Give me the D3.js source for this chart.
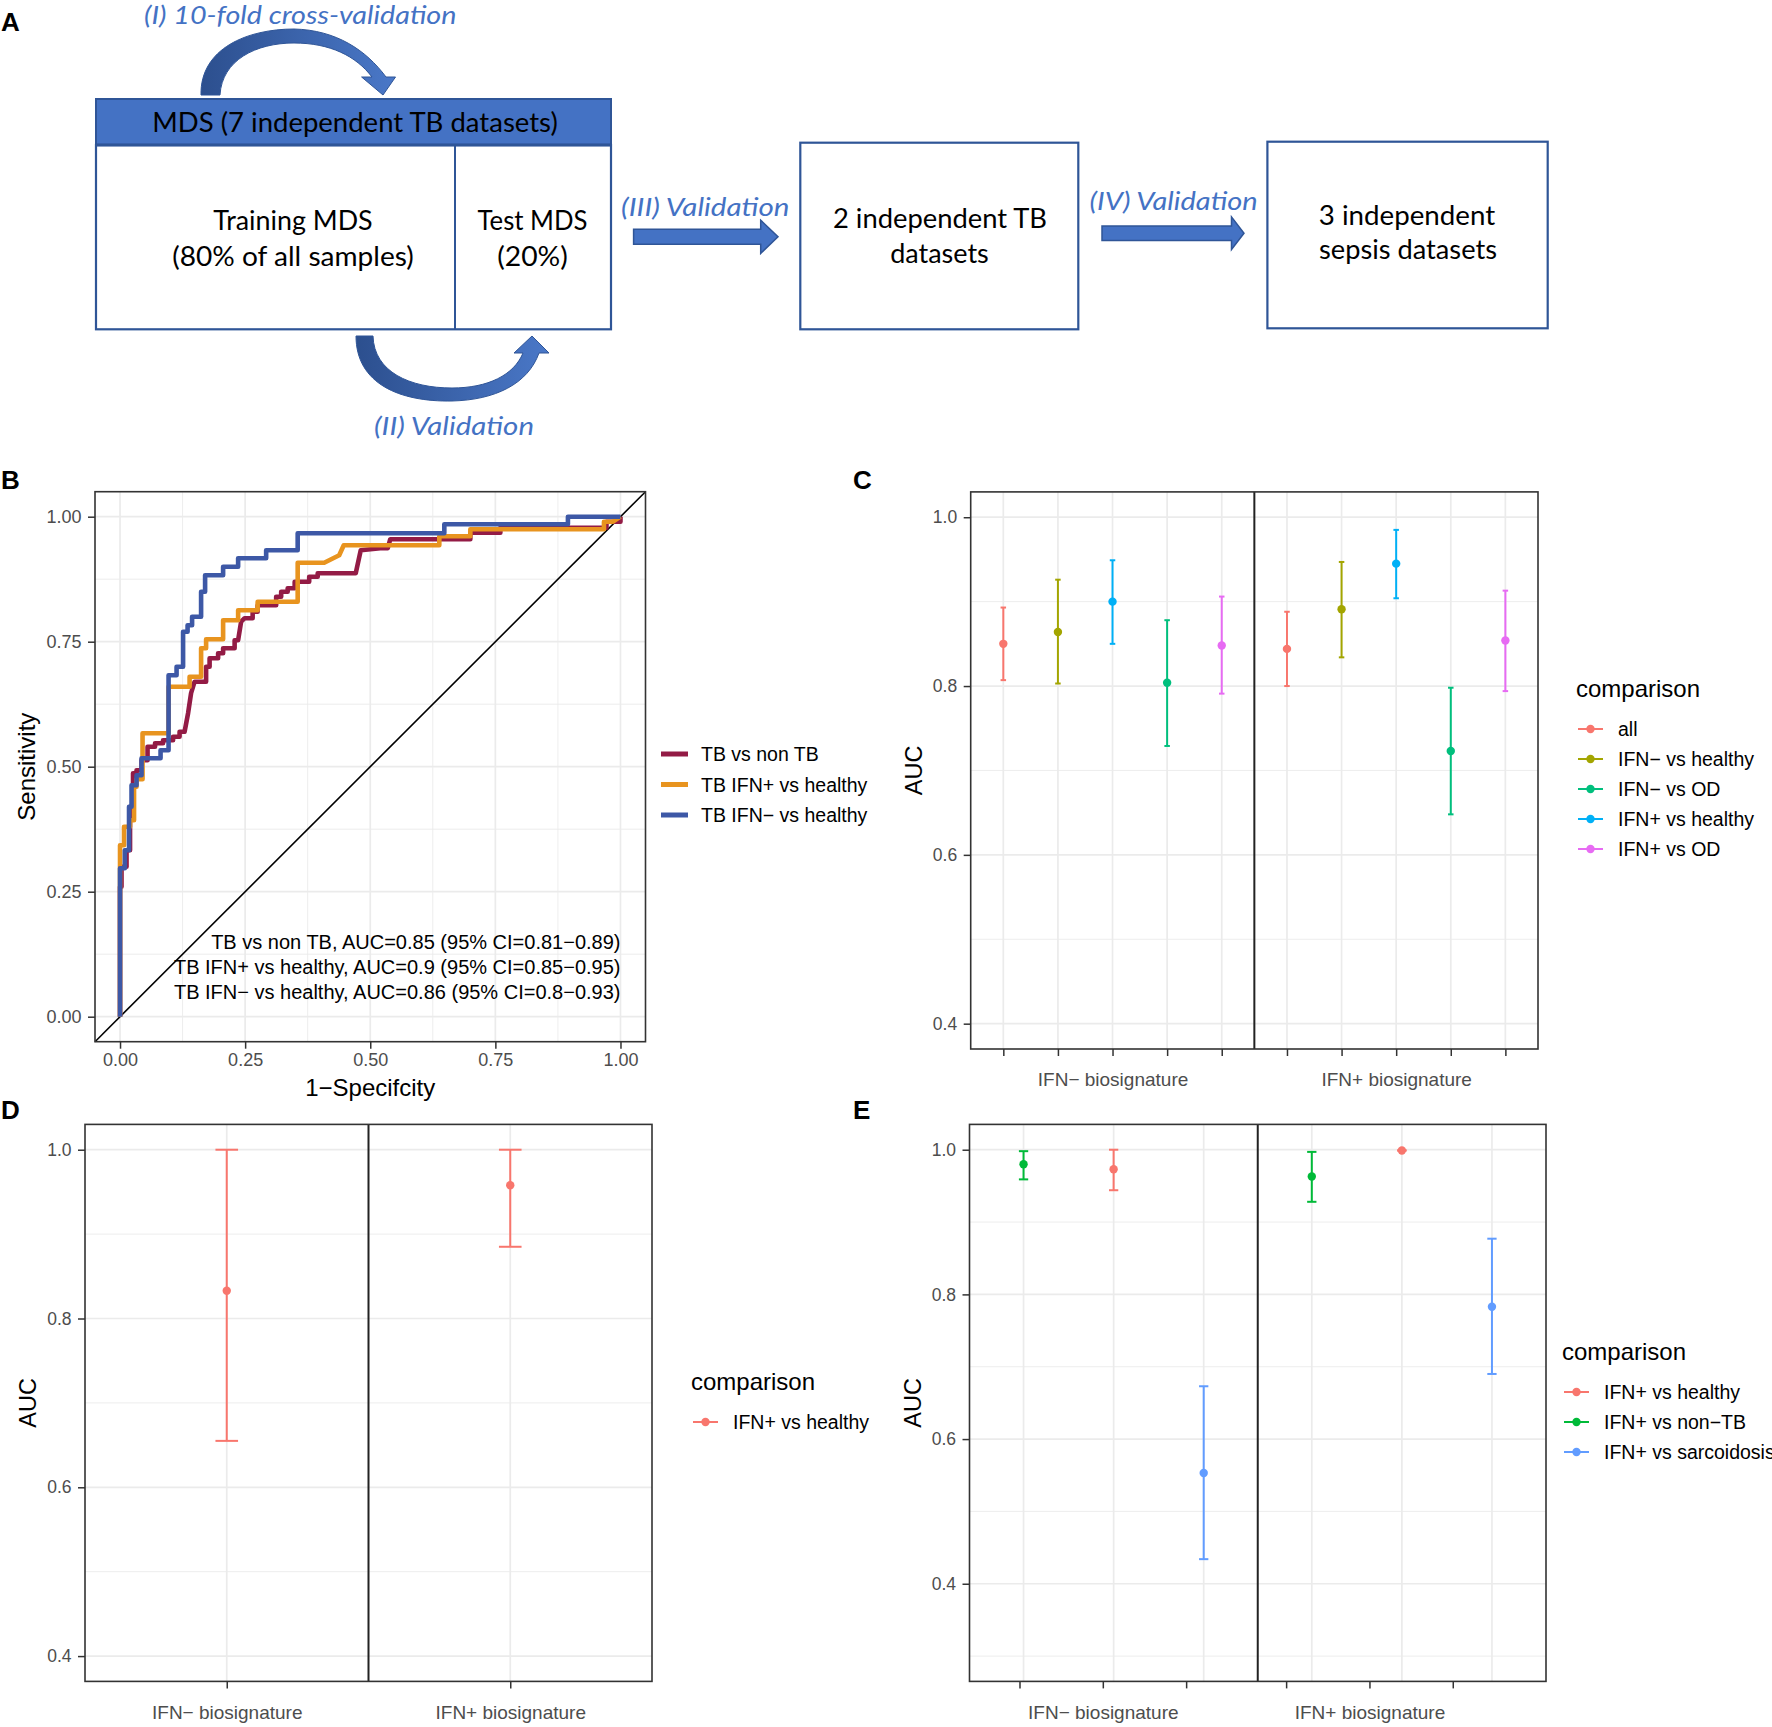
<!DOCTYPE html>
<html><head><meta charset="utf-8">
<script src="https://cdn.jsdelivr.net/npm/d3@7"></script>
<style>body{margin:0;background:#fff} svg{display:block}</style>
</head><body><svg id="fig" width="1772" height="1727"></svg>
<script>
// ================= DATA =================
// Panel B : ROC curves (1-specificity, sensitivity)
const rocSeries = ["TB vs non TB", "TB IFN+ vs healthy", "TB IFN\u2212 vs healthy"];
const rocColors = ["#931B45", "#E8941F", "#3D58A6"];
const rocNonTB = [[0,0],[0,0.26],[0.003,0.26],[0.003,0.30],[0.013,0.30],[0.013,0.333],[0.02,0.333],[0.02,0.42],[0.026,0.42],[0.026,0.487],[0.033,0.487],[0.033,0.493],[0.043,0.493],[0.043,0.513],[0.055,0.513],[0.055,0.54],[0.07,0.54],[0.07,0.547],[0.086,0.547],[0.086,0.553],[0.106,0.553],[0.106,0.56],[0.119,0.56],[0.119,0.57],[0.129,0.57],[0.136,0.607],[0.142,0.647],[0.149,0.67],[0.172,0.67],[0.172,0.70],[0.179,0.70],[0.179,0.717],[0.196,0.717],[0.196,0.727],[0.206,0.727],[0.206,0.737],[0.229,0.737],[0.229,0.753],[0.236,0.753],[0.242,0.79],[0.249,0.797],[0.265,0.797],[0.265,0.81],[0.275,0.81],[0.275,0.823],[0.312,0.823],[0.312,0.84],[0.322,0.84],[0.322,0.85],[0.335,0.85],[0.335,0.857],[0.349,0.857],[0.349,0.87],[0.378,0.87],[0.378,0.88],[0.395,0.88],[0.395,0.887],[0.471,0.887],[0.481,0.933],[0.52,0.937],[0.535,0.937],[0.54,0.955],[0.70,0.955],[0.70,0.968],[0.76,0.968],[0.76,0.978],[0.972,0.978],[0.972,0.99],[1,0.99],[1,1]];
const rocIFNpos = [[0,0],[0,0.343],[0.008,0.343],[0.008,0.38],[0.02,0.38],[0.02,0.393],[0.028,0.393],[0.028,0.46],[0.033,0.46],[0.033,0.475],[0.045,0.475],[0.045,0.567],[0.097,0.567],[0.097,0.66],[0.139,0.66],[0.139,0.68],[0.162,0.68],[0.162,0.737],[0.172,0.737],[0.172,0.755],[0.206,0.755],[0.206,0.793],[0.236,0.793],[0.236,0.813],[0.275,0.813],[0.275,0.83],[0.355,0.83],[0.355,0.908],[0.408,0.908],[0.438,0.923],[0.447,0.943],[0.638,0.943],[0.638,0.961],[0.70,0.961],[0.70,0.975],[0.967,0.975],[0.967,0.99],[0.985,0.99],[1,1]];
const rocIFNneg = [[0,0],[0,0.297],[0.0096,0.297],[0.0096,0.333],[0.018,0.333],[0.018,0.42],[0.023,0.42],[0.023,0.463],[0.033,0.463],[0.033,0.483],[0.043,0.483],[0.043,0.517],[0.081,0.517],[0.081,0.533],[0.097,0.533],[0.097,0.683],[0.113,0.683],[0.113,0.70],[0.126,0.70],[0.126,0.77],[0.135,0.77],[0.135,0.783],[0.144,0.783],[0.144,0.80],[0.162,0.80],[0.162,0.85],[0.170,0.85],[0.170,0.883],[0.206,0.883],[0.206,0.90],[0.236,0.90],[0.236,0.917],[0.292,0.917],[0.292,0.933],[0.355,0.933],[0.355,0.967],[0.648,0.967],[0.648,0.985],[0.895,0.985],[0.895,1],[1,1]];
const rocAnnotations = ["TB vs non TB, AUC=0.85 (95% CI=0.81\u22120.89)", "TB IFN+ vs healthy, AUC=0.9 (95% CI=0.85\u22120.95)", "TB IFN\u2212 vs healthy, AUC=0.86 (95% CI=0.8\u22120.93)"];
const rocAnnotY = [0.15, 0.10, 0.05];
const rocTicks = [0, 0.25, 0.5, 0.75, 1];
const rocMinor = [0.125, 0.375, 0.625, 0.875];

// Panels C, D, E : AUC with 95% CI
const signatures = ["IFN\u2212 biosignature", "IFN+ biosignature"];
const aucTicks = [0.4, 0.6, 0.8, 1.0];

const cLegend = ["all", "IFN\u2212 vs healthy", "IFN\u2212 vs OD", "IFN+ vs healthy", "IFN+ vs OD"];
const cColors = ["#F8766D", "#A3A500", "#00BF7D", "#00B0F6", "#E76BF3"];
const cOrder = ["all", "IFN\u2212 vs healthy", "IFN+ vs healthy", "IFN\u2212 vs OD", "IFN+ vs OD"];
const cAucNeg  = [0.850, 0.864, 0.900, 0.804, 0.848];
const cLowNeg  = [0.807, 0.803, 0.850, 0.729, 0.791];
const cHighNeg = [0.893, 0.926, 0.949, 0.878, 0.906];
const cAucPos  = [0.844, 0.891, 0.945, 0.723, 0.854];
const cLowPos  = [0.800, 0.834, 0.904, 0.648, 0.794];
const cHighPos = [0.888, 0.947, 0.985, 0.798, 0.913];

const dLegend = ["IFN+ vs healthy"];
const dColors = ["#F8766D"];
const dOrder = ["IFN+ vs healthy"];
const dAuc  = [0.833, 0.958];
const dLow  = [0.655, 0.885];
const dHigh = [1.000, 1.000];

const eLegend = ["IFN+ vs healthy", "IFN+ vs non\u2212TB", "IFN+ vs sarcoidosis"];
const eColors = ["#F8766D", "#00BA38", "#619CFF"];
const eOrder = ["IFN+ vs non\u2212TB", "IFN+ vs healthy", "IFN+ vs sarcoidosis"];
const eAucNeg  = [0.980, 0.973, 0.553];
const eLowNeg  = [0.959, 0.944, 0.434];
const eHighNeg = [0.998, 1.000, 0.673];
const eAucPos  = [0.963, 0.999, 0.783];
const eLowPos  = [0.928, 0.999, 0.690];
const eHighPos = [0.997, 0.999, 0.877];

// ================= STYLE =================
const FONT = "'Liberation Sans', Arial, Helvetica, sans-serif";
const CAL = "Lato, 'Open Sans', sans-serif";
const GRID = "#EBEBEB", BORDER = "#333333", TICKTXT = "#4D4D4D";
const BLUE = "#4472C4", DBLUE = "#2F5597";

const svg = d3.select("#fig");
svg.append("rect").attr("width", 1772).attr("height", 1727).attr("fill", "#fff");

// panel letters
[["A", 1, 31], ["B", 1, 489], ["C", 853, 489], ["D", 1, 1119], ["E", 853, 1119]].forEach(([t, x, y]) =>
  svg.append("text").attr("x", x).attr("y", y).text(t)
    .attr("font-family", FONT).attr("font-weight", "bold").attr("font-size", 26).attr("fill", "#000"));

// ================= PANEL A (flow diagram) =================
(function drawA() {
  const g = svg.append("g");
  const defs = svg.append("defs");
  const grad = defs.append("linearGradient").attr("id", "arcGrad").attr("x1", "0").attr("x2", "1").attr("y1", "0").attr("y2", "0");
  grad.append("stop").attr("offset", "0%").attr("stop-color", "#2C4F8E");
  grad.append("stop").attr("offset", "100%").attr("stop-color", "#4A78C8");

  // header + boxes
  g.append("rect").attr("x", 96).attr("y", 99).attr("width", 515).attr("height", 46)
    .attr("fill", BLUE).attr("stroke", DBLUE).attr("stroke-width", 2);
  g.append("line").attr("x1", 96).attr("x2", 611).attr("y1", 145).attr("y2", 145).attr("stroke", DBLUE).attr("stroke-width", 3);
  g.append("rect").attr("x", 96).attr("y", 145).attr("width", 515).attr("height", 184.3)
    .attr("fill", "none").attr("stroke", DBLUE).attr("stroke-width", 2.2);
  g.append("line").attr("x1", 455).attr("x2", 455).attr("y1", 145).attr("y2", 329.3).attr("stroke", DBLUE).attr("stroke-width", 2);
  g.append("rect").attr("x", 800.3).attr("y", 142.7).attr("width", 278).attr("height", 186.6)
    .attr("fill", "none").attr("stroke", DBLUE).attr("stroke-width", 2.2);
  g.append("rect").attr("x", 1267.4).attr("y", 141.7).attr("width", 280.3).attr("height", 186.6)
    .attr("fill", "none").attr("stroke", DBLUE).attr("stroke-width", 2.2);

  // curved arrows
  g.append("path").attr("d",
    "M201,95 C200,48 248,29 294,29 C336,30 366,50 386,77 L395.5,77 L383,95 L361.6,77 L372,77 " +
    "C356,56 330,43 294,43 C256,43 222,60 220,95 Z")
    .attr("fill", "url(#arcGrad)").attr("stroke", DBLUE).attr("stroke-width", 1);
  g.append("path").attr("d",
    "M356,336 C356,384 400,402 452,401 C495,400 528,384 539,353 L549,353 L532,336 L514,353 L523,353 " +
    "C514,375 488,388 452,388 C410,388 374,372 373,336 Z")
    .attr("fill", "url(#arcGrad)").attr("stroke", DBLUE).attr("stroke-width", 1);

  // straight arrows
  const arrow = (x0, x1, xt, yc, hs, hh) =>
    `M${x0},${yc - hs} L${x1},${yc - hs} L${x1},${yc - hh} L${xt},${yc} L${x1},${yc + hh} L${x1},${yc + hs} L${x0},${yc + hs} Z`;
  g.append("path").attr("d", arrow(633.6, 760.7, 778, 236.8, 7.5, 16.6))
    .attr("fill", BLUE).attr("stroke", DBLUE).attr("stroke-width", 1.5);
  g.append("path").attr("d", arrow(1102, 1231.5, 1244, 233.2, 7.3, 16.3))
    .attr("fill", BLUE).attr("stroke", DBLUE).attr("stroke-width", 1.5);

  const txt = (t, x, y, w, opts = {}) => {
    const el = g.append("text").attr("x", x).attr("y", y).text(t)
      .attr("font-family", CAL).attr("font-size", opts.size || 26)
      .attr("fill", opts.fill || "#000")
      .attr("text-anchor", opts.anchor || "middle")
      .attr("textLength", w).attr("lengthAdjust", "spacingAndGlyphs");
    if (opts.italic) el.attr("font-style", "italic");
    return el;
  };
  txt("MDS (7 independent TB datasets)", 355, 131.7, 405.5);
  txt("Training MDS", 293, 230, 159.4);
  txt("(80% of all samples)", 293, 265.5, 241.6);
  txt("Test MDS", 532.5, 230, 110);
  txt("(20%)", 532.5, 265.5, 70.6);
  txt("2 independent TB", 940, 228.3, 214);
  txt("datasets", 939.5, 263.3, 98.6);
  txt("3 independent", 1407, 225, 176.4);
  txt("sepsis datasets", 1408, 259.3, 177.9);
  const it = { italic: true, fill: BLUE, anchor: "start", size: 25 };
  txt("(I) 10-fold cross-validation", 144, 24, 312.5, it);
  txt("(II) Validation", 374, 435, 160, it);
  txt("(III) Validation", 621, 216, 168.5, it);
  txt("(IV) Validation", 1089.5, 210, 168.2, it);
})();

// ================= helpers =================
function styleAxis(sel, size) {
  sel.select(".domain").remove();
  sel.selectAll(".tick line").attr("stroke", BORDER).attr("stroke-width", 1.5);
  sel.selectAll(".tick text").attr("fill", TICKTXT).attr("font-size", size).attr("font-family", FONT);
}

// ================= PANEL B (ROC) =================
(function drawB() {
  const L = 95, R = 645.5, T = 491.7, B = 1041.7;
  const x = d3.scaleLinear().domain([-0.05, 1.05]).range([L, R]);
  const y = d3.scaleLinear().domain([-0.05, 1.05]).range([B, T]);
  const g = svg.append("g");
  g.selectAll(".mnx").data(rocMinor).join("line")
    .attr("x1", d => x(d)).attr("x2", d => x(d)).attr("y1", T).attr("y2", B)
    .attr("stroke", GRID).attr("stroke-width", 0.9);
  g.selectAll(".mny").data(rocMinor).join("line")
    .attr("y1", d => y(d)).attr("y2", d => y(d)).attr("x1", L).attr("x2", R)
    .attr("stroke", GRID).attr("stroke-width", 0.9);
  g.selectAll(".mjx").data(rocTicks).join("line")
    .attr("x1", d => x(d)).attr("x2", d => x(d)).attr("y1", T).attr("y2", B)
    .attr("stroke", GRID).attr("stroke-width", 1.7);
  g.selectAll(".mjy").data(rocTicks).join("line")
    .attr("y1", d => y(d)).attr("y2", d => y(d)).attr("x1", L).attr("x2", R)
    .attr("stroke", GRID).attr("stroke-width", 1.7);

  // diagonal
  g.append("line").attr("x1", x(-0.05)).attr("y1", y(-0.05)).attr("x2", x(1.05)).attr("y2", y(1.05))
    .attr("stroke", "#000").attr("stroke-width", 1.6);

  const line = d3.line().x(d => x(d[0])).y(d => y(d[1]));
  [rocNonTB, rocIFNpos, rocIFNneg].forEach((s, i) =>
    g.append("path").datum(s).attr("d", line).attr("fill", "none")
      .attr("stroke", rocColors[i]).attr("stroke-width", 4.6).attr("stroke-linejoin", "round"));

  // annotations
  g.selectAll(".ann").data(rocAnnotations).join("text")
    .attr("x", x(1)).attr("y", (d, i) => y(rocAnnotY[i])).attr("dy", "0.36em")
    .attr("text-anchor", "end").attr("font-family", FONT).attr("font-size", 20).attr("fill", "#000")
    .text(d => d);

  g.append("rect").attr("x", L).attr("y", T).attr("width", R - L).attr("height", B - T)
    .attr("fill", "none").attr("stroke", BORDER).attr("stroke-width", 1.6);

  const ax = g.append("g").attr("transform", `translate(0,${B})`)
    .call(d3.axisBottom(x).tickValues(rocTicks).tickFormat(d3.format(".2f")).tickSize(7).tickPadding(4.5));
  styleAxis(ax, 18);
  const ay = g.append("g").attr("transform", `translate(${L},0)`)
    .call(d3.axisLeft(y).tickValues(rocTicks).tickFormat(d3.format(".2f")).tickSize(7).tickPadding(6.5));
  styleAxis(ay, 18);

  g.append("text").attr("x", (L + R) / 2).attr("y", 1096).attr("text-anchor", "middle")
    .attr("font-family", FONT).attr("font-size", 24).text("1\u2212Specifcity");
  g.append("text").attr("transform", `translate(35,${(T + B) / 2}) rotate(-90)`).attr("text-anchor", "middle")
    .attr("font-family", FONT).attr("font-size", 24).text("Sensitivity");

  // legend
  const lg = g.append("g");
  const ly = [754, 784.5, 815];
  rocSeries.forEach((s, i) => {
    lg.append("line").attr("x1", 661).attr("x2", 688).attr("y1", ly[i]).attr("y2", ly[i])
      .attr("stroke", rocColors[i]).attr("stroke-width", 5);
    lg.append("text").attr("x", 701).attr("y", ly[i]).attr("dy", "0.36em")
      .attr("font-family", FONT).attr("font-size", 19.5).text(s);
  });
})();

// ================= PANELS C, D, E =================
function drawAuc(cfg) {
  const { L, R, T, B, yDomain, order, colorOf, sets, dodge, cap, tickShrink, legend } = cfg;
  const x = d3.scaleLinear().domain([0.5, 2.5]).range([L, R]);
  const y = d3.scaleLinear().domain(yDomain).range([B, T]);
  const n = order.length;
  const pts = [];
  signatures.forEach((sig, s) => order.forEach((c, i) => pts.push({
    sig, c, i, pos: s + 1 + (i - (n - 1) / 2) * dodge,
    auc: sets[s][0][i], lo: sets[s][1][i], hi: sets[s][2][i]
  })));
  const g = svg.append("g");
  const minor = aucTicks.map(v => +(v - 0.1).toFixed(2)).filter(v => v > yDomain[0] && v < yDomain[1]);
  g.selectAll(".mn").data(minor).join("line")
    .attr("y1", d => y(d)).attr("y2", d => y(d)).attr("x1", L).attr("x2", R)
    .attr("stroke", GRID).attr("stroke-width", 0.9);
  g.selectAll(".mj").data(aucTicks).join("line")
    .attr("y1", d => y(d)).attr("y2", d => y(d)).attr("x1", L).attr("x2", R)
    .attr("stroke", GRID).attr("stroke-width", 1.7);
  g.selectAll(".vx").data(pts).join("line")
    .attr("x1", d => x(d.pos)).attr("x2", d => x(d.pos)).attr("y1", T).attr("y2", B)
    .attr("stroke", GRID).attr("stroke-width", 1.7);
  g.append("line").attr("x1", x(1.5)).attr("x2", x(1.5)).attr("y1", T).attr("y2", B)
    .attr("stroke", "#222").attr("stroke-width", 2);

  const eb = g.selectAll(".eb").data(pts).join("g").attr("stroke", d => colorOf(d.c)).attr("stroke-width", 2);
  eb.append("line").attr("x1", d => x(d.pos)).attr("x2", d => x(d.pos)).attr("y1", d => y(d.lo)).attr("y2", d => y(d.hi));
  eb.append("line").attr("x1", d => x(d.pos) - cap / 2).attr("x2", d => x(d.pos) + cap / 2).attr("y1", d => y(d.lo)).attr("y2", d => y(d.lo));
  eb.append("line").attr("x1", d => x(d.pos) - cap / 2).attr("x2", d => x(d.pos) + cap / 2).attr("y1", d => y(d.hi)).attr("y2", d => y(d.hi));
  g.selectAll(".pt").data(pts).join("circle")
    .attr("cx", d => x(d.pos)).attr("cy", d => y(d.auc)).attr("r", 4.2).attr("fill", d => colorOf(d.c));

  g.append("rect").attr("x", L).attr("y", T).attr("width", R - L).attr("height", B - T)
    .attr("fill", "none").attr("stroke", BORDER).attr("stroke-width", 1.6);

  const ay = g.append("g").attr("transform", `translate(${L},0)`)
    .call(d3.axisLeft(y).tickValues(aucTicks).tickFormat(d3.format(".1f")).tickSize(7).tickPadding(6.5));
  styleAxis(ay, 17.5);
  const xt = d3.scaleLinear().domain([0.5, 2.5]).range([L, L + (R - L) * tickShrink]);
  const mid = (n - 1) / 2;
  const ax = g.append("g").attr("transform", `translate(0,${B})`)
    .call(d3.axisBottom(xt).tickValues(pts.map(p => p.pos)).tickSize(7).tickPadding(17)
      .tickFormat((d, k) => (pts[k].i === mid ? pts[k].sig : "")));
  styleAxis(ax, 19);

  g.append("text").attr("transform", `translate(${L - 49},${(T + B) / 2}) rotate(-90)`).attr("text-anchor", "middle")
    .attr("font-family", FONT).attr("font-size", 23.5).text("AUC");

  const lg = g.append("g");
  lg.append("text").attr("x", legend.x - 2).attr("y", legend.y).attr("font-family", FONT).attr("font-size", 24).text("comparison");
  legend.items.forEach((c, i) => {
    const yy = legend.y + 32 + i * 30;
    lg.append("line").attr("x1", legend.x).attr("x2", legend.x + 25).attr("y1", yy).attr("y2", yy)
      .attr("stroke", colorOf(c)).attr("stroke-width", 2);
    lg.append("circle").attr("cx", legend.x + 12.5).attr("cy", yy).attr("r", 4.2).attr("fill", colorOf(c));
    lg.append("text").attr("x", legend.x + 40).attr("y", yy).attr("dy", "0.36em")
      .attr("font-family", FONT).attr("font-size", 19.5).text(c);
  });
}

const cColor = d3.scaleOrdinal().domain(cLegend).range(cColors);
drawAuc({
  L: 970.7, R: 1538, T: 491.9, B: 1049, yDomain: [0.37, 1.03],
  order: cOrder, colorOf: c => cColor(c),
  sets: [[cAucNeg, cLowNeg, cHighNeg], [cAucPos, cLowPos, cHighPos]],
  dodge: 0.1925, cap: 5.5, tickShrink: 1,
  legend: { x: 1578, y: 697, items: cLegend }
});
const dColor = d3.scaleOrdinal().domain(dLegend).range(dColors);
drawAuc({
  L: 85, R: 652, T: 1124.4, B: 1681.4, yDomain: [0.37, 1.03],
  order: dOrder, colorOf: c => dColor(c),
  sets: [[[dAuc[0]], [dLow[0]], [dHigh[0]]], [[dAuc[1]], [dLow[1]], [dHigh[1]]]],
  dodge: 0, cap: 22.6, tickShrink: 1,
  legend: { x: 693, y: 1390, items: dLegend }
});
const eColor = d3.scaleOrdinal().domain(eLegend).range(eColors);
drawAuc({
  L: 969.5, R: 1546, T: 1124.4, B: 1681.4, yDomain: [0.265, 1.035],
  order: eOrder, colorOf: c => eColor(c),
  sets: [[eAucNeg, eLowNeg, eHighNeg], [eAucPos, eLowPos, eHighPos]],
  dodge: 0.3125, cap: 9.3, tickShrink: 0.925,
  legend: { x: 1564, y: 1360, items: eLegend }
});
</script></body></html>
